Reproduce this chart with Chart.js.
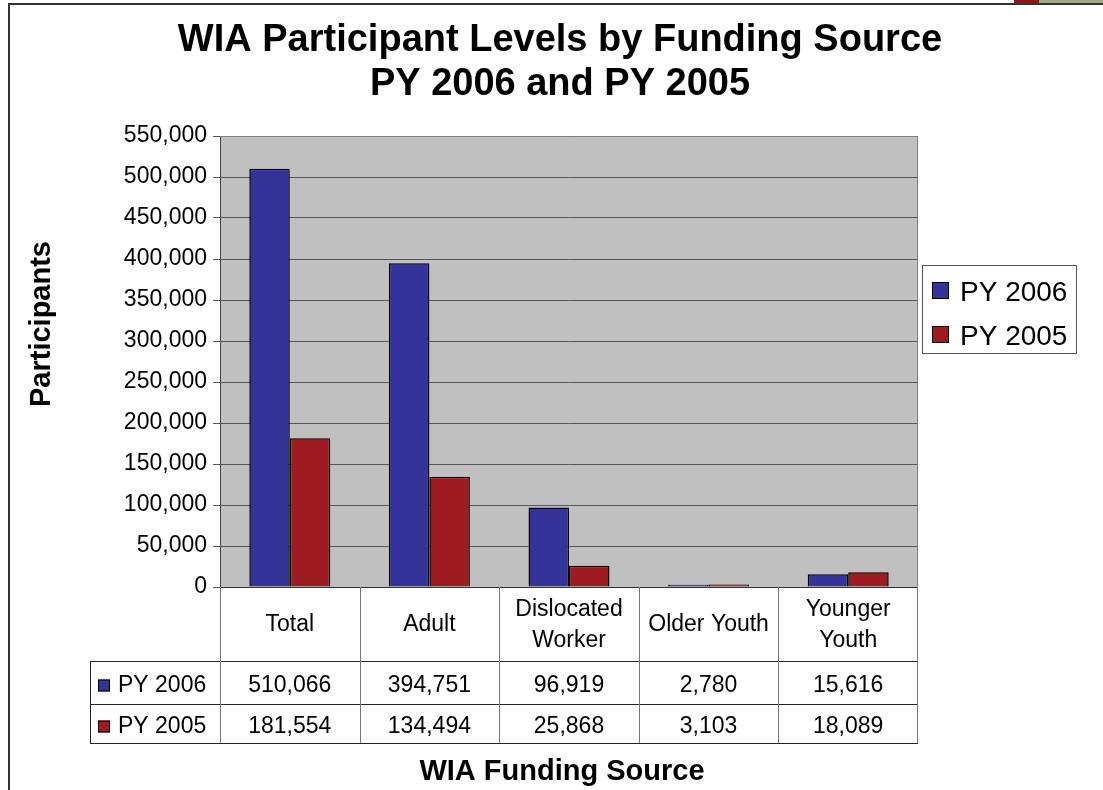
<!DOCTYPE html>
<html>
<head>
<meta charset="utf-8">
<script src="https://cdn.jsdelivr.net/npm/chart.js@4.4.1/dist/chart.umd.min.js"></script>
<style>
  html, body { margin: 0; padding: 0; background: #fff; }
  #wrap { width: 1103px; height: 790px; position: relative; }
</style>
</head>
<body>
<div id="wrap"><canvas id="barChart"></canvas></div>
<script>
// chart data
var categories = [["Total"], ["Adult"], ["Dislocated", "Worker"], ["Older Youth"], ["Younger", "Youth"]];
var seriesNames = ["PY 2006", "PY 2005"];
var py2006 = [510066, 394751, 96919, 2780, 15616];
var py2005 = [181554, 134494, 25868, 3103, 18089];
var yTicks = [0, 50000, 100000, 150000, 200000, 250000, 300000, 350000, 400000, 450000, 500000, 550000];

var colors = ["#333399", "#9E1B22"];
var FONT = "'Liberation Sans', Arial, sans-serif";

function fmt(v) { return v.toLocaleString('en-US'); }

// draws frame, plot background, titles, legend, data table
var extras = {
    id: 'extras',
    beforeDraw: function(chart) {
        var ctx = chart.ctx, a = chart.chartArea;
        ctx.save();
        ctx.fillStyle = '#C0C0C0';
        ctx.fillRect(a.left, a.top, a.right - a.left, a.bottom - a.top);
        ctx.restore();
    },
    afterDraw: function(chart) {
        var ctx = chart.ctx, a = chart.chartArea, x = chart.scales.x;
        ctx.save();
        // outer frame
        ctx.fillStyle = '#333';
        ctx.fillRect(8, 3, 1095, 2);
        ctx.fillRect(8, 3, 2, 787);
        ctx.fillStyle = '#9B1010';
        ctx.fillRect(1014, 0, 25, 3);
        ctx.fillStyle = '#A4A77A';
        ctx.fillRect(1039, 0, 64, 3);

        // title
        ctx.fillStyle = '#000';
        ctx.textAlign = 'center';
        ctx.textBaseline = 'middle';
        ctx.font = 'bold 38px ' + FONT;
        ctx.fillText('WIA Participant Levels by Funding Source', 560, 41);
        ctx.fillText('PY 2006 and PY 2005', 560, 85);

        // y title
        ctx.save();
        ctx.translate(42, 324);
        ctx.rotate(-Math.PI / 2);
        ctx.font = 'bold 29px ' + FONT;
        ctx.fillText('Participants', 0, 0);
        ctx.restore();

        // plot border
        ctx.strokeStyle = '#808080';
        ctx.lineWidth = 1;
        ctx.beginPath();
        ctx.moveTo(a.left, a.top + 0.5); ctx.lineTo(a.right - 0.5, a.top + 0.5); ctx.lineTo(a.right - 0.5, a.bottom);
        ctx.stroke();
        ctx.strokeStyle = '#333';
        ctx.beginPath();
        ctx.moveTo(a.left, a.bottom + 0.5); ctx.lineTo(a.right, a.bottom + 0.5);
        ctx.stroke();

        // data table
        var half = (x.getPixelForValue(1) - x.getPixelForValue(0)) / 2;
        var rowTop = a.bottom, row1 = 661, row2 = 704, row3 = 743, tableLeft = 90;
        ctx.strokeStyle = '#222';
        ctx.lineWidth = 1;
        ctx.beginPath();
        ctx.moveTo(tableLeft, row1 + 0.5); ctx.lineTo(a.right, row1 + 0.5);
        ctx.moveTo(tableLeft, row2 + 0.5); ctx.lineTo(a.right, row2 + 0.5);
        ctx.moveTo(tableLeft, row3 + 0.5); ctx.lineTo(a.right, row3 + 0.5);
        ctx.moveTo(tableLeft + 0.5, row1); ctx.lineTo(tableLeft + 0.5, row3);
        ctx.stroke();
        ctx.strokeStyle = '#777';
        ctx.beginPath();
        for (var i = 0; i <= categories.length; i++) {
            var cx = Math.round(x.getPixelForValue(i) - half) + 0.5;
            if (i === categories.length) cx = Math.round(x.getPixelForValue(i - 1) + half) - 0.5;
            ctx.moveTo(cx, rowTop); ctx.lineTo(cx, row3);
        }
        ctx.stroke();

        ctx.font = '23px ' + FONT;
        ctx.fillStyle = '#000';
        var rows = [py2006, py2005];
        var rowY = [(row1 + row2) / 2 + 3, (row2 + row3) / 2 + 3];
        categories.forEach(function(lines, i) {
            var cx = x.getPixelForValue(i);
            var mid = (rowTop + row1) / 2 + 1;
            lines.forEach(function(t, k) {
                ctx.fillText(t, cx, mid + (k - (lines.length - 1) / 2) * 31);
            });
            rows.forEach(function(r, j) {
                ctx.fillText(fmt(r[i]), cx, rowY[j]);
            });
        });
        seriesNames.forEach(function(n, j) {
            var cy = rowY[j];
            ctx.fillStyle = colors[j];
            ctx.fillRect(98, cy - 6, 12, 12);
            ctx.strokeStyle = '#000';
            ctx.strokeRect(98.5, cy - 5.5, 11, 11);
            ctx.fillStyle = '#000';
            ctx.textAlign = 'left';
            ctx.fillText(n, 118, cy);
            ctx.textAlign = 'center';
        });

        // x title
        ctx.font = 'bold 29px ' + FONT;
        ctx.fillText('WIA Funding Source', 562, 772);

        // legend
        ctx.strokeStyle = '#555';
        ctx.strokeRect(922.5, 265.5, 154, 88);
        ctx.font = '28px ' + FONT;
        ctx.textAlign = 'left';
        seriesNames.forEach(function(n, j) {
            var cy = 291 + j * 44;
            ctx.fillStyle = colors[j];
            ctx.fillRect(932, cy - 9, 17, 17);
            ctx.strokeStyle = '#000';
            ctx.strokeRect(932.5, cy - 8.5, 16, 16);
            ctx.fillStyle = '#000';
            ctx.fillText(n, 960, cy + 2);
        });
        ctx.restore();
    }
};

var ctxB = document.getElementById("barChart").getContext('2d');
var myBarChart = new Chart(ctxB, {
    type: 'bar',
    data: {
        labels: categories.map(function(c) { return c.join(' '); }),
        datasets: [{
                label: seriesNames[0],
                data: py2006,
                backgroundColor: colors[0],
                borderColor: '#000',
                borderWidth: 1.5
            }, {
                label: seriesNames[1],
                data: py2005,
                backgroundColor: colors[1],
                borderColor: '#000',
                borderWidth: 1.5
            }]
    },
    options: {
        responsive: true,
        maintainAspectRatio: false,
        animation: false,
        layout: { padding: { top: 136, right: 185, bottom: 203, left: 0 } },
        plugins: { legend: { display: false }, title: { display: false }, tooltip: { enabled: false } },
        datasets: { bar: { categoryPercentage: 0.58, barPercentage: 1 } },
        scales: {
            x: { display: false },
            y: {
                min: 0, max: 550000,
                afterFit: function(s) { s.width = 220; },
                afterBuildTicks: function(s) { s.ticks = yTicks.map(function(v) { return { value: v }; }); },
                ticks: {
                    color: '#000',
                    font: { family: FONT, size: 23 },
                    padding: 6,
                    callback: function(v) { return fmt(v); }
                },
                grid: { color: '#555', tickLength: 7, drawOnChartArea: true },
                border: { color: '#444', width: 1 }
            }
        }
    },
    plugins: [extras]
});
</script>
</body>
</html>
